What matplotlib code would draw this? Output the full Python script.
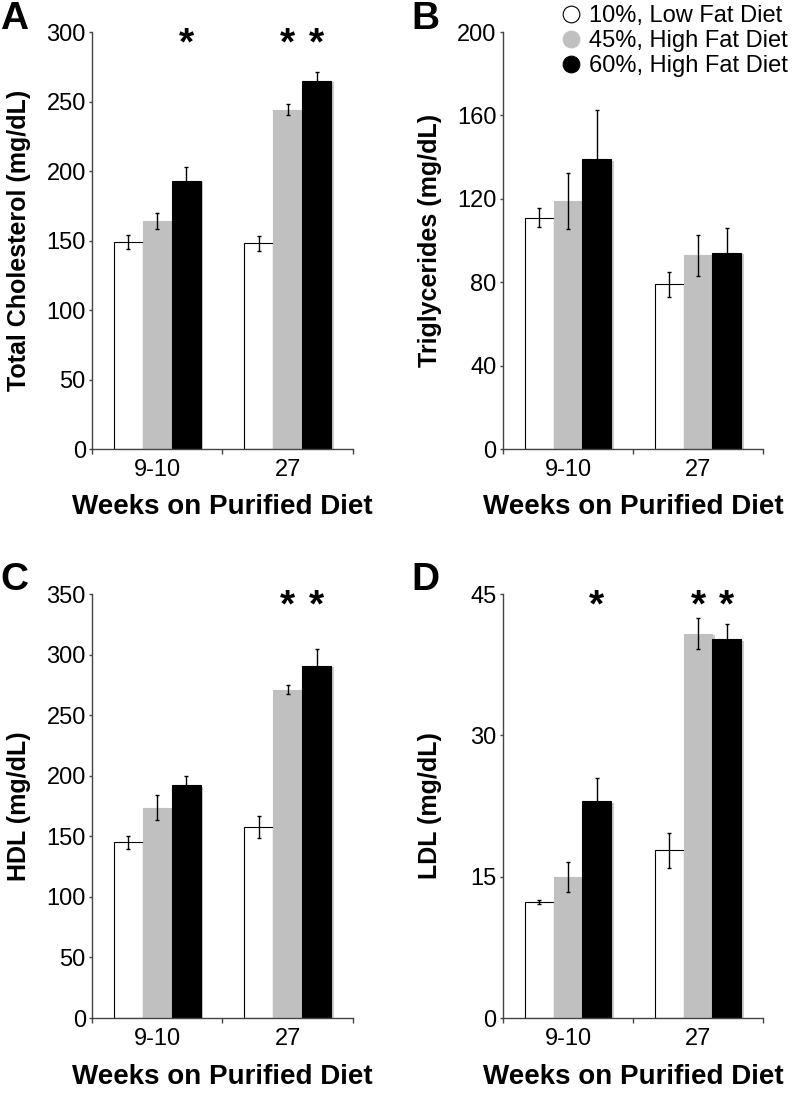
import numpy as np
import matplotlib
matplotlib.use("Agg")
import matplotlib.pyplot as plt
import matplotlib.patheffects as pe
from matplotlib.lines import Line2D
from matplotlib.transforms import blended_transform_factory

plt.rcParams['font.family'] = ['Liberation Sans', 'DejaVu Sans']

# Datos
semanas = ['9-10', '27']
dietas = ['10%, Low Fat Diet', '45%, High Fat Diet', '60%, High Fat Diet']
colores = ['white', '#c0c0c0', 'black']

col_media = [[149, 148], [164, 244], [193, 265]]
col_err = [[5, 5.5], [6, 4], [10, 6]]
tg_media = [[111, 79], [119, 93], [139, 94]]
tg_err = [[4.6, 6], [13.6, 9.8], [23.5, 12]]
hdl_media = [[145, 158], [173.5, 271], [192, 291]]
hdl_err = [[5.5, 9], [10.4, 3.6], [7.7, 14]]
ldl_media = [[12.3, 17.8], [15.0, 40.8], [23.0, 40.2]]
ldl_err = [[0.25, 1.85], [1.6, 1.65], [2.5, 1.65]]

# (semana, dieta) con diferencia significativa
sig_col = [(0, 2), (1, 1), (1, 2)]
sig_tg = []
sig_hdl = [(1, 1), (1, 2)]
sig_ldl = [(0, 2), (1, 1), (1, 2)]

paneles = [
    ('A', 'Total Cholesterol (mg/dL)', col_media, col_err, sig_col, [0, 50, 100, 150, 200, 250, 300]),
    ('B', 'Triglycerides (mg/dL)', tg_media, tg_err, sig_tg, [0, 40, 80, 120, 160, 200]),
    ('C', 'HDL (mg/dL)', hdl_media, hdl_err, sig_hdl, [0, 50, 100, 150, 200, 250, 300, 350]),
    ('D', 'LDL (mg/dL)', ldl_media, ldl_err, sig_ldl, [0, 15, 30, 45]),
]

fig = plt.figure(figsize=(7.98, 11.12), dpi=100)
posiciones = [
    [0.1153, 0.5962, 0.327, 0.375],
    [0.6303, 0.5962, 0.3258, 0.375],
    [0.1153, 0.0845, 0.327, 0.3813],
    [0.6303, 0.0845, 0.3258, 0.3813],
]

x = np.arange(len(semanas))
ancho = 0.222
sombra = [pe.SimplePatchShadow(offset=(2, -1), shadow_rgbFace='0.6', alpha=0.5), pe.Normal()]

for (letra, ylab, media, err, sig, yticks), pos in zip(paneles, posiciones):
    ax = fig.add_axes(pos)
    for i in range(3):
        xi = x + (i - 1) * ancho
        ax.bar(xi, media[i], ancho, color=colores[i],
               edgecolor='black' if i == 0 else colores[i], linewidth=0.8,
               path_effects=sombra, zorder=2)
        ax.errorbar(xi, media[i], yerr=err[i], fmt='none', ecolor='black',
                    elinewidth=1, capsize=1.5, capthick=1, zorder=3)
    ax.set_xlim(-0.5, 1.5)
    ax.set_ylim(0, yticks[-1])
    ax.set_yticks(yticks)
    ax.set_xticks(x)
    ax.set_xticklabels(semanas)
    ax.set_xticks([-0.5, 0.5, 1.5], minor=True)
    ax.tick_params(axis='x', which='major', length=0, pad=7, labelsize=17)
    ax.tick_params(axis='x', which='minor', length=3.5, width=1, color='#444')
    ax.tick_params(axis='y', length=2.5, width=1, color='#444', pad=2, labelsize=17)
    for s in ['top', 'right']:
        ax.spines[s].set_visible(False)
    for s in ['left', 'bottom']:
        ax.spines[s].set_color('#444')
        ax.spines[s].set_linewidth(1)
    ax.set_ylabel(ylab, fontsize=18, fontweight='bold')
    ax.yaxis.set_label_coords(-0.235, 0.5)
    ax.set_xlabel('Weeks on Purified Diet', fontsize=20, fontweight='bold')
    ax.xaxis.set_label_coords(0.5, -0.108)

    trans = blended_transform_factory(ax.transData, ax.transAxes)
    for g, d in sig:
        ax.text(x[g] + (d - 1) * ancho, 0.97, '*', transform=trans,
                ha='center', va='center', fontsize=28, fontweight='bold')

    fig.text(pos[0] - 0.115, 0.999 - (0 if pos[1] > 0.5 else 0.504), letra,
             fontsize=28, fontweight='bold', ha='left', va='top')

marcas = [Line2D([], [], marker='o', linestyle='none', markersize=12,
                 markerfacecolor=c, markeredgecolor='black' if c == 'white' else c,
                 markeredgewidth=0.8) for c in colores]
fig.legend(marcas, dietas, loc='upper right', bbox_to_anchor=(1.005, 1.008),
           frameon=False, fontsize=17, handlelength=0.8, handletextpad=0.35,
           labelspacing=0.12, borderpad=0.1)

fig.savefig('out.png', dpi=100)
